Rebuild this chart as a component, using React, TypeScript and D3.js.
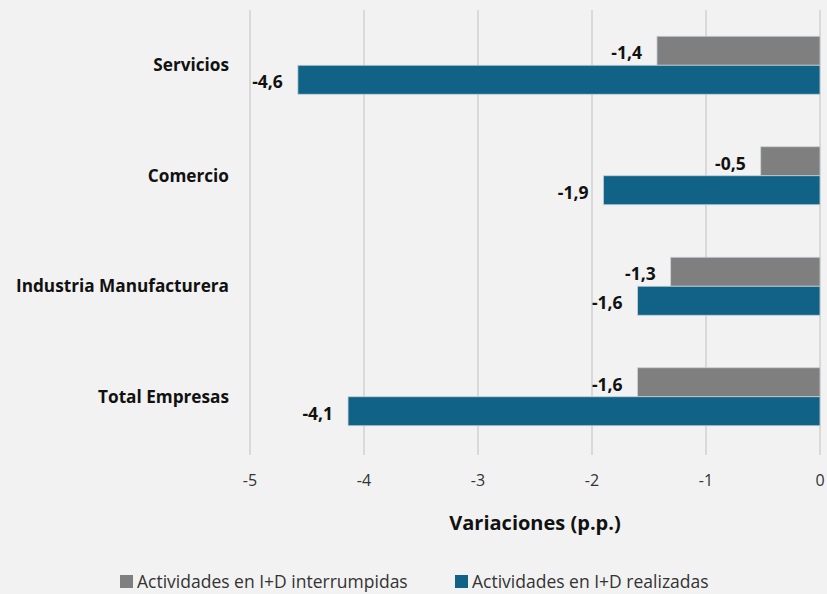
import { useEffect, useRef } from 'react';
import * as d3 from 'd3';

// categories top to bottom
const categories = ['Servicios', 'Comercio', 'Industria Manufacturera', 'Total Empresas'];
const interrumpidas = [-1.43, -0.52, -1.31, -1.6];
const realizadas = [-4.58, -1.9, -1.6, -4.14];
const seriesNames = ['Actividades en I+D interrumpidas', 'Actividades en I+D realizadas'];
const xTicks = [-5, -4, -3, -2, -1, 0];

const W = 827;
const H = 594;
const FONT = "'Open Sans', 'Noto Sans', sans-serif";
const GRAY = '#7f7f7f';
const BLUE = '#106387';

const fmt = (v: number) => v.toFixed(1).replace('.', ',');

const App = () => {
	const ref = useRef<SVGSVGElement | null>(null);

	useEffect(() => {
		const svg = d3.select(ref.current);
		svg.selectAll('*').remove();

		const margin = { top: 10, right: 7, bottom: 142, left: 250 };

		svg.append('rect').attr('width', W).attr('height', H).attr('fill', '#f2f2f2');

		const x = d3
			.scaleLinear()
			.domain([-5, 0])
			.range([margin.left, W - margin.right]);

		const y = d3
			.scaleBand()
			.domain(categories)
			.range([margin.top, H - margin.bottom]);

		const barH = 29;

		// gridlines
		svg
			.append('g')
			.selectAll('line')
			.data(xTicks)
			.join('line')
			.attr('x1', (d) => x(d))
			.attr('x2', (d) => x(d))
			.attr('y1', margin.top)
			.attr('y2', H - margin.bottom + 3)
			.attr('stroke', '#d9d9d9')
			.attr('stroke-width', 2);

		// x tick labels
		svg
			.append('g')
			.selectAll('text')
			.data(xTicks)
			.join('text')
			.attr('x', (d) => x(d))
			.attr('y', 486)
			.attr('text-anchor', 'middle')
			.style('font-family', FONT)
			.style('font-size', '16px')
			.attr('fill', '#333')
			.text((d) => String(d));

		// axis title
		svg
			.append('text')
			.attr('x', 535)
			.attr('y', 530)
			.attr('text-anchor', 'middle')
			.style('font-family', FONT)
			.style('font-size', '20px')
			.style('font-weight', 'bold')
			.attr('fill', '#111')
			.text('Variaciones (p.p.)');

		// category labels
		svg
			.append('g')
			.selectAll('text')
			.data(categories)
			.join('text')
			.attr('x', 229)
			.attr('y', (d) => y(d)! + y.bandwidth() / 2)
			.attr('dy', '0.35em')
			.attr('text-anchor', 'end')
			.style('font-family', FONT)
			.style('font-size', '17.2px')
			.style('font-weight', 'bold')
			.attr('fill', '#111')
			.text((d) => d);

		const series = [
			{ values: interrumpidas, color: GRAY, off: -barH },
			{ values: realizadas, color: BLUE, off: 0 },
		];

		series.forEach((s) => {
			const g = svg.append('g');
			g.selectAll('rect')
				.data(categories)
				.join('rect')
				.attr('x', (_, i) => x(s.values[i]))
				.attr('y', (d) => y(d)! + y.bandwidth() / 2 + s.off)
				.attr('width', (_, i) => x(0) - x(s.values[i]))
				.attr('height', barH)
				.attr('fill', s.color)
				.attr('stroke', '#c8d0d6')
				.attr('stroke-width', 0.8);

			g.selectAll('text')
				.data(categories)
				.join('text')
				.attr('x', (_, i) => x(s.values[i]) - 15)
				.attr('y', (d) => y(d)! + y.bandwidth() / 2 + s.off + barH / 2 + 2.5)
				.attr('dy', '0.35em')
				.attr('text-anchor', 'end')
				.style('font-family', FONT)
				.style('font-size', '17.5px')
				.style('font-weight', 'bold')
				.attr('fill', '#111')
				.text((_, i) => fmt(s.values[i]));
		});

		// legend
		const legendX = [120, 455];
		const legend = svg
			.append('g')
			.selectAll('g')
			.data(seriesNames)
			.join('g')
			.attr('transform', (_, i) => `translate(${legendX[i]}, 575)`);
		legend
			.append('rect')
			.attr('width', 13)
			.attr('height', 13)
			.attr('fill', (_, i) => (i === 0 ? GRAY : BLUE));
		legend
			.append('text')
			.attr('x', 17)
			.attr('y', 13)
			.style('font-family', FONT)
			.style('font-size', '17.5px')
			.attr('fill', '#333')
			.text((d) => d);
	}, []);

	return (
		<svg
			ref={ref}
			width={W}
			height={H}
			style={{ position: 'absolute', left: 0, top: 0 }}
		></svg>
	);
};

export default App;
